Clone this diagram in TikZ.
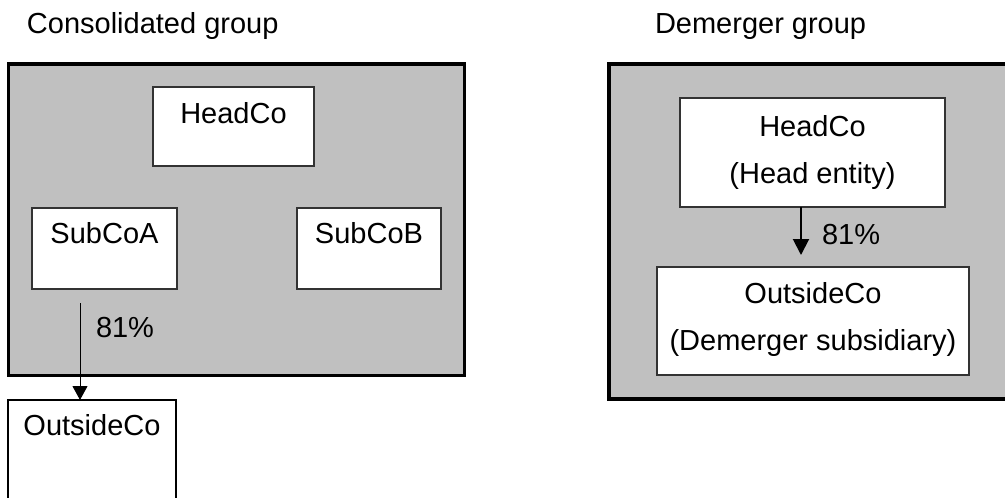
\documentclass[tikz,border=0pt]{standalone}
\usepackage{fontspec}
\setmainfont{Liberation Sans}
\usetikzlibrary{arrows.meta,calc}
\definecolor{groupgray}{HTML}{C0C0C0}
\begin{document}
\begin{tikzpicture}[x=1pt,y=-1pt,
  group/.style={draw=black,line width=3.5pt,fill=groupgray},
  entity/.style={draw=black!80,line width=1.4pt,fill=white,inner sep=0pt,outer sep=0pt},
  lbl/.style={inner sep=0pt,outer sep=0pt,font=\fontsize{29}{35}\selectfont,anchor=base},
  thinarrow/.style={line width=1pt,-{Triangle[width=15pt,length=14pt]}},
  thickarrow/.style={line width=2pt,-{Triangle[width=16pt,length=16pt]}}]
\useasboundingbox (0,0) rectangle (1005,498);
\clip (0,0) rectangle (1005,498);
\fill[white] (0,0) rectangle (1005,498);
% titles
\node[lbl,anchor=base west] (t1) at (27,33) {Consolidated group};
\node[lbl,anchor=base west] (t2) at (655,33) {Demerger group};
% group boxes
\draw[group] (8.5,64) rectangle (464.5,375.5);
\draw[group] (609,64) rectangle (1030,399);
% left entities
\node[entity,minimum width=161pt,minimum height=79pt] (hc) at (233.5,126.5) {};
\node[lbl] (hct) at ($(hc.north)+(0,36)$) {HeadCo};
\node[entity,minimum width=145pt,minimum height=81pt] (sa) at (104.5,248.5) {};
\node[lbl] (sat) at ($(sa.north)+(0,35)$) {SubCoA};
\node[entity,minimum width=144pt,minimum height=81pt] (sb) at (369,248.5) {};
\node[lbl] (sbt) at ($(sb.north)+(0,35)$) {SubCoB};
\node[entity,draw=black,minimum width=168pt,minimum height=140pt] (oc) at (92,470) {};
\node[lbl] (oct) at ($(oc.north)+(0,35)$) {OutsideCo};
\coordinate (a1) at (80,303);
\draw[thinarrow] (a1) -- (a1 |- oc.north);
\node[lbl,anchor=base west] (p1) at (96,337) {81\%};
% right entities
\node[entity,minimum width=265pt,minimum height=109pt] (hr) at (812.5,152.5) {};
\node[lbl] (hrt1) at ($(hr.north)+(0,38)$) {HeadCo};
\node[lbl] (hrt2) at ($(hr.north)+(0,85)$) {(Head entity)};
\node[entity,minimum width=312pt,minimum height=108pt] (or) at (813,321) {};
\node[lbl] (ort1) at ($(or.north)+(0,36)$) {OutsideCo};
\node[lbl] (ort2) at ($(or.north)+(0,83)$) {(Demerger subsidiary)};
\coordinate (a2) at (801,255);
\draw[thickarrow] (hr.south -| a2) -- (a2);
\node[lbl,anchor=base west] (p2) at (822,244) {81\%};
\end{tikzpicture}
\end{document}
